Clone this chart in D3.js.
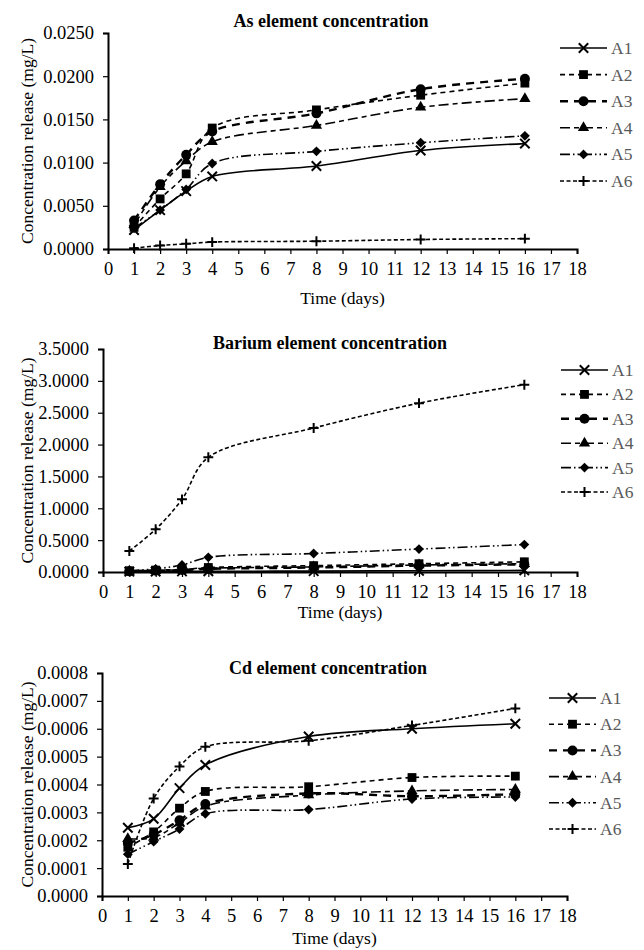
<!DOCTYPE html>
<html>
<head>
<meta charset="utf-8">
<script src="https://cdn.jsdelivr.net/npm/d3@7"></script>
<style>
  body { margin: 0; background: #fff; }
  svg text { font-family: "Liberation Serif", "Times New Roman", serif; }
</style>
</head>
<body>
<div id="chart"></div>
<script>
// sampling days
var days = [1, 2, 3, 4, 8, 12, 16];
var seriesNames = ["A1", "A2", "A3", "A4", "A5", "A6"];

// As element (mg/L)
var asA1 = [0.0022, 0.0045, 0.0067, 0.0084, 0.0096, 0.0114, 0.0122];
var asA2 = [0.0025, 0.0058, 0.0087, 0.0140, 0.0161, 0.0178, 0.0192];
var asA3 = [0.0033, 0.0075, 0.0109, 0.0136, 0.0157, 0.0185, 0.0197];
var asA4 = [0.0028, 0.0072, 0.0102, 0.0124, 0.0143, 0.0164, 0.0174];
var asA5 = [0.0024, 0.0045, 0.0069, 0.0099, 0.0113, 0.0123, 0.0131];
var asA6 = [0.0001, 0.0004, 0.0006, 0.0008, 0.0009, 0.0011, 0.0012];

// Barium element (mg/L)
var baA1 = [0.005, 0.008, 0.010, 0.012, 0.014, 0.020, 0.025];
var baA2 = [0.020, 0.030, 0.040, 0.070, 0.100, 0.130, 0.160];
var baA3 = [0.010, 0.020, 0.030, 0.050, 0.070, 0.100, 0.120];
var baA4 = [0.010, 0.020, 0.040, 0.060, 0.080, 0.110, 0.130];
var baA5 = [0.020, 0.050, 0.110, 0.230, 0.290, 0.360, 0.430];
var baA6 = [0.330, 0.670, 1.140, 1.800, 2.260, 2.650, 2.940];

// Cd element (mg/L)
var cdA1 = [0.000245, 0.000277, 0.000387, 0.000470, 0.000572, 0.000600, 0.000618];
var cdA2 = [0.000175, 0.000230, 0.000315, 0.000375, 0.000392, 0.000425, 0.000430];
var cdA3 = [0.000190, 0.000220, 0.000272, 0.000330, 0.000368, 0.000358, 0.000365];
var cdA4 = [0.000205, 0.000210, 0.000262, 0.000322, 0.000362, 0.000377, 0.000382];
var cdA5 = [0.000150, 0.000195, 0.000240, 0.000295, 0.000310, 0.000348, 0.000355];
var cdA6 = [0.000115, 0.000350, 0.000465, 0.000535, 0.000557, 0.000612, 0.000673];

// tick labels
var xTicks = d3.range(0, 19);
var asTicks = [0, 0.005, 0.010, 0.015, 0.020, 0.025];
var baTicks = [0, 0.5, 1.0, 1.5, 2.0, 2.5, 3.0, 3.5];
var cdTicks = [0, 0.0001, 0.0002, 0.0003, 0.0004, 0.0005, 0.0006, 0.0007, 0.0008];

// line / marker style per series
var styles = [
  { dash: null,                 width: 1.6, symbol: d3.symbolTimes,    size: 60, stroked: true },
  { dash: "5,4",                width: 1.6, symbol: d3.symbolSquare,   size: 78 },
  { dash: "8,6",                width: 2.4, symbol: d3.symbolCircle,   size: 78 },
  { dash: "10,4,5,4",           width: 1.6, symbol: d3.symbolTriangle, size: 55 },
  { dash: "10,3,1.5,3,1.5,3",   width: 1.6, symbol: d3.symbolDiamond2, size: 62 },
  { dash: "4,2.5",              width: 1.6, symbol: d3.symbolPlus,     size: 34, stroked: true }
];

var svg = d3.select("#chart").append("svg")
    .attr("width", 644)
    .attr("height", 950);

function styleAxis(a) {
  a.select(".domain").attr("stroke-width", 2);
  a.selectAll(".tick line").attr("stroke-width", 1.2);
  a.selectAll("text").attr("font-size", 18.5).attr("font-family", "Liberation Serif").attr("fill", "#000");
}

function drawChart(cfg) {
  var g = svg.append("g");

  var x = d3.scaleLinear().domain([0, 18]).range([cfg.left, cfg.right]);
  var y = d3.scaleLinear().domain([0, cfg.yMax]).range([cfg.bottom, cfg.top]);

  // axes
  g.append("g")
      .attr("transform", "translate(0," + cfg.bottom + ")")
      .call(d3.axisBottom(x).tickValues(xTicks).tickSize(5).tickPadding(8).tickFormat(d3.format("d")))
      .call(styleAxis);
  g.append("g")
      .attr("transform", "translate(" + cfg.left + ",0)")
      .call(d3.axisLeft(y).tickValues(cfg.yTicks).tickSize(5).tickPadding(9).tickFormat(d3.format(cfg.fmt)))
      .call(styleAxis);

  // series
  var line = d3.line()
      .x(function(d) { return x(d[0]); })
      .y(function(d) { return y(d[1]); })
      .curve(d3.curveCatmullRom.alpha(0.5));

  cfg.series.forEach(function(vals, i) {
    var st = styles[i];
    var pts = days.map(function(d, j) { return [d, vals[j]]; });
    g.append("path")
        .datum(pts)
        .attr("fill", "none")
        .attr("stroke", "#000")
        .attr("stroke-width", st.width)
        .attr("stroke-dasharray", st.dash)
        .attr("d", line);
  });
  cfg.series.forEach(function(vals, i) {
    var st = styles[i];
    var sym = d3.symbol().type(st.symbol).size(st.size);
    g.selectAll(null)
        .data(days.map(function(d, j) { return [d, vals[j]]; }))
        .enter()
        .append("path")
        .attr("transform", function(d) { return "translate(" + x(d[0]) + "," + y(d[1]) + ")"; })
        .attr("d", sym)
        .attr("fill", st.stroked ? "none" : "#000")
        .attr("stroke", st.stroked ? "#000" : "none")
        .attr("stroke-width", 2);
  });

  // title
  g.append("text")
      .attr("x", cfg.titleX)
      .attr("y", cfg.titleY)
      .attr("text-anchor", "middle")
      .attr("font-size", 18)
      .attr("font-weight", "bold")
      .text(cfg.title);

  // axis labels
  g.append("text")
      .attr("x", (cfg.left + cfg.right) / 2)
      .attr("y", cfg.xLabelY)
      .attr("text-anchor", "middle")
      .attr("font-size", 17.5)
      .text("Time (days)");
  g.append("text")
      .attr("transform", "translate(27," + (cfg.top + cfg.bottom) / 2 + ") rotate(-90)")
      .attr("text-anchor", "middle")
      .attr("dominant-baseline", "central")
      .attr("font-size", 17.5)
      .text("Concentration release (mg/L)");

  // legend
  var lg = g.append("g");
  seriesNames.forEach(function(name, i) {
    var st = styles[i];
    var ly = cfg.legY + i * cfg.legStep;
    var x0 = cfg.legX, x1 = cfg.legX + 47;
    lg.append("line")
        .attr("x1", x0).attr("x2", x1)
        .attr("y1", ly).attr("y2", ly)
        .attr("stroke", "#000")
        .attr("stroke-width", st.width)
        .attr("stroke-dasharray", st.dash);
    lg.append("path")
        .attr("transform", "translate(" + (x0 + 23.5) + "," + ly + ")")
        .attr("d", d3.symbol().type(st.symbol).size(st.size))
        .attr("fill", st.stroked ? "none" : "#000")
        .attr("stroke", st.stroked ? "#000" : "none")
        .attr("stroke-width", 2);
    lg.append("text")
        .attr("x", x1 + 4)
        .attr("y", ly)
        .attr("dominant-baseline", "central")
        .attr("font-size", 17.5)
        .attr("fill", "#595959")
        .text(name);
  });
}

drawChart({
  title: "As element concentration", titleX: 331, titleY: 27,
  left: 108, right: 577, top: 33, bottom: 249, xLabelY: 304,
  yMax: 0.025, yTicks: asTicks, fmt: ".4f",
  series: [asA1, asA2, asA3, asA4, asA5, asA6],
  legX: 560, legY: 48, legStep: 26.6
});

drawChart({
  title: "Barium element concentration", titleX: 330, titleY: 349,
  left: 103, right: 577, top: 349, bottom: 572, xLabelY: 618,
  yMax: 3.5, yTicks: baTicks, fmt: ".4f",
  series: [baA1, baA2, baA3, baA4, baA5, baA6],
  legX: 561, legY: 370, legStep: 24.4
});

drawChart({
  title: "Cd element concentration", titleX: 328, titleY: 674,
  left: 102, right: 567, top: 673, bottom: 896, xLabelY: 944,
  yMax: 0.0008, yTicks: cdTicks, fmt: ".4f",
  series: [cdA1, cdA2, cdA3, cdA4, cdA5, cdA6],
  legX: 549, legY: 698, legStep: 26.2
});
</script>
</body>
</html>
